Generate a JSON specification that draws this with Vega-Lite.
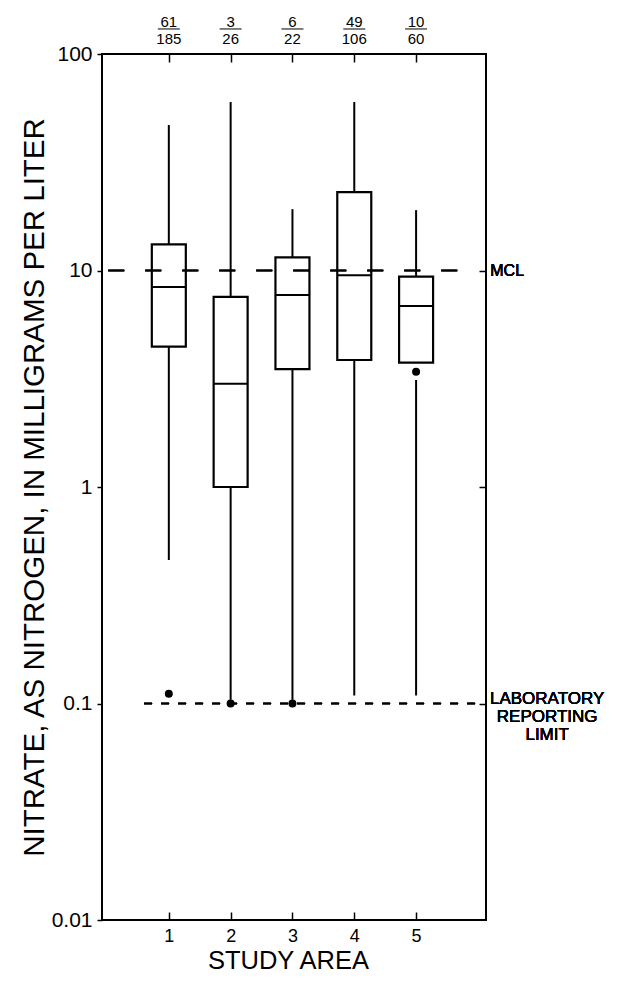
{
  "$schema": "https://vega.github.io/schema/vega-lite/v6.json",
  "autosize": "none",
  "padding": {"left": 102, "top": 54, "right": 135, "bottom": 67},
  "width": 384,
  "height": 866,
  "background": "white",
  "config": {
    "font": "Liberation Sans",
    "view": {"stroke": "black", "strokeWidth": 2},
    "axis": {"grid": false, "domain": false, "tickColor": "black", "labelColor": "black", "titleColor": "black", "titleFontWeight": "normal", "tickWidth": 1.5}
  },
  "datasets": {
    "boxes": [
      {"area": 1, "lower_min": 0.46, "lower_max": 4.45, "q1": 4.45, "median": 8.4, "q3": 13.2, "max": 47, "exceed": "61", "total": "185"},
      {"area": 2, "lower_min": 0.104, "lower_max": 1.0, "q1": 1.0, "median": 3.0, "q3": 7.55, "max": 60, "exceed": "3", "total": "26"},
      {"area": 3, "lower_min": 0.104, "lower_max": 3.5, "q1": 3.5, "median": 7.7, "q3": 11.5, "max": 19.2, "exceed": "6", "total": "22"},
      {"area": 4, "lower_min": 0.109, "lower_max": 3.86, "q1": 3.86, "median": 9.5, "q3": 23, "max": 60, "exceed": "49", "total": "106"},
      {"area": 5, "lower_min": 0.109, "lower_max": 3.12, "q1": 3.75, "median": 6.85, "q3": 9.37, "max": 19, "exceed": "10", "total": "60"}
    ],
    "outliers": [
      {"area": 1, "value": 0.111},
      {"area": 2, "value": 0.1},
      {"area": 3, "value": 0.1},
      {"area": 5, "value": 3.41}
    ]
  },
  "data": {"name": "boxes"},
  "resolve": {"axis": {"x": "independent", "y": "independent"}},
  "layer": [
    {
      "mark": {"type": "rule", "color": "black", "strokeWidth": 2},
      "encoding": {
        "x": {"field": "area", "type": "quantitative", "scale": {"domain": [0, 6.05], "nice": false, "zero": false},
              "axis": {"orient": "bottom", "values": [1, 2, 3, 4, 5], "tickSize": -8, "labelPadding": 15, "labelFontSize": 18, "title": "STUDY AREA", "titleFontSize": 25.5, "titlePadding": 3, "titleX": 186}},
        "y": {"field": "q3", "type": "quantitative", "scale": {"type": "log", "domain": [0.01, 100], "nice": false, "zero": false},
              "axis": {"orient": "left", "values": [0.01, 0.1, 1, 10, 100], "labelExpr": "datum.value < 1 ? format(datum.value, '.2~f') : format(datum.value, 'd')", "tickSize": 5, "labelPadding": 5, "labelFontSize": 21, "title": "NITRATE, AS NITROGEN, IN MILLIGRAMS PER LITER", "titleFontSize": 29.5, "titlePadding": 2}},
        "y2": {"field": "max"}
      }
    },
    {
      "mark": {"type": "rule", "color": "black", "strokeWidth": 2},
      "encoding": {
        "x": {"field": "area", "type": "quantitative", "axis": {"orient": "top", "values": [1, 2, 3, 4, 5], "tickSize": -8, "labels": false, "title": null}},
        "y": {"field": "lower_min", "type": "quantitative", "axis": {"orient": "right", "values": [0.1, 1, 10], "tickSize": -7, "labels": false, "title": null}},
        "y2": {"field": "lower_max"}
      }
    },
    {
      "mark": {"type": "bar", "fill": "white", "stroke": "black", "strokeWidth": 2.2, "size": 34},
      "encoding": {
        "x": {"field": "area", "type": "quantitative", "axis": null},
        "y": {"field": "q1", "type": "quantitative", "axis": null},
        "y2": {"field": "q3"}
      }
    },
    {
      "mark": {"type": "tick", "orient": "horizontal", "color": "black", "size": 34, "thickness": 2, "opacity": 1},
      "encoding": {
        "x": {"field": "area", "type": "quantitative", "axis": null},
        "y": {"field": "median", "type": "quantitative", "axis": null}
      }
    },
    {
      "mark": {"type": "rule", "color": "black", "strokeWidth": 1.5, "strokeDash": [16, 21]},
      "encoding": {
        "x": {"datum": 0.02, "type": "quantitative", "axis": null},
        "x2": {"datum": 5.72},
        "y": {"datum": 10, "type": "quantitative", "axis": null}
      }
    },
    {
      "mark": {"type": "rule", "color": "black", "strokeWidth": 1.5, "strokeDash": [8, 9]},
      "encoding": {
        "x": {"datum": 0.6, "type": "quantitative", "axis": null},
        "x2": {"datum": 6.05},
        "y": {"datum": 0.1, "type": "quantitative", "axis": null}
      }
    },
    {
      "data": {"name": "outliers"},
      "mark": {"type": "circle", "color": "black", "opacity": 1, "size": 64},
      "encoding": {
        "x": {"field": "area", "type": "quantitative", "axis": null},
        "y": {"field": "value", "type": "quantitative", "axis": null}
      }
    },
    {
      "mark": {"type": "text", "fontSize": 15, "baseline": "middle", "align": "center", "color": "black"},
      "encoding": {
        "x": {"field": "area", "type": "quantitative", "axis": null},
        "y": {"datum": 140.6, "type": "quantitative", "axis": null},
        "text": {"field": "exceed"}
      }
    },
    {
      "mark": {"type": "text", "fontSize": 15, "baseline": "middle", "align": "center", "color": "black"},
      "encoding": {
        "x": {"field": "area", "type": "quantitative", "axis": null},
        "y": {"datum": 117.3, "type": "quantitative", "axis": null},
        "text": {"field": "total"}
      }
    },
    {
      "mark": {"type": "tick", "orient": "horizontal", "color": "black", "size": 22, "thickness": 1, "opacity": 1},
      "encoding": {
        "x": {"field": "area", "type": "quantitative", "axis": null},
        "y": {"datum": 130.5, "type": "quantitative", "axis": null}
      }
    },
    {
      "mark": {"type": "text", "fontSize": 16, "align": "left", "baseline": "middle", "color": "black", "text": "MCL"},
      "encoding": {
        "x": {"datum": 6.2, "type": "quantitative", "axis": null},
        "y": {"datum": 10, "type": "quantitative", "axis": null}
      }
    },
    {
      "mark": {"type": "text", "fontSize": 17, "align": "center", "baseline": "middle", "lineHeight": 18, "color": "black", "dy": -5, "text": ["LABORATORY", "REPORTING", "LIMIT"]},
      "encoding": {
        "x": {"datum": 7.12, "type": "quantitative", "axis": null},
        "y": {"datum": 0.1, "type": "quantitative", "axis": null}
      }
    }
  ]
}
